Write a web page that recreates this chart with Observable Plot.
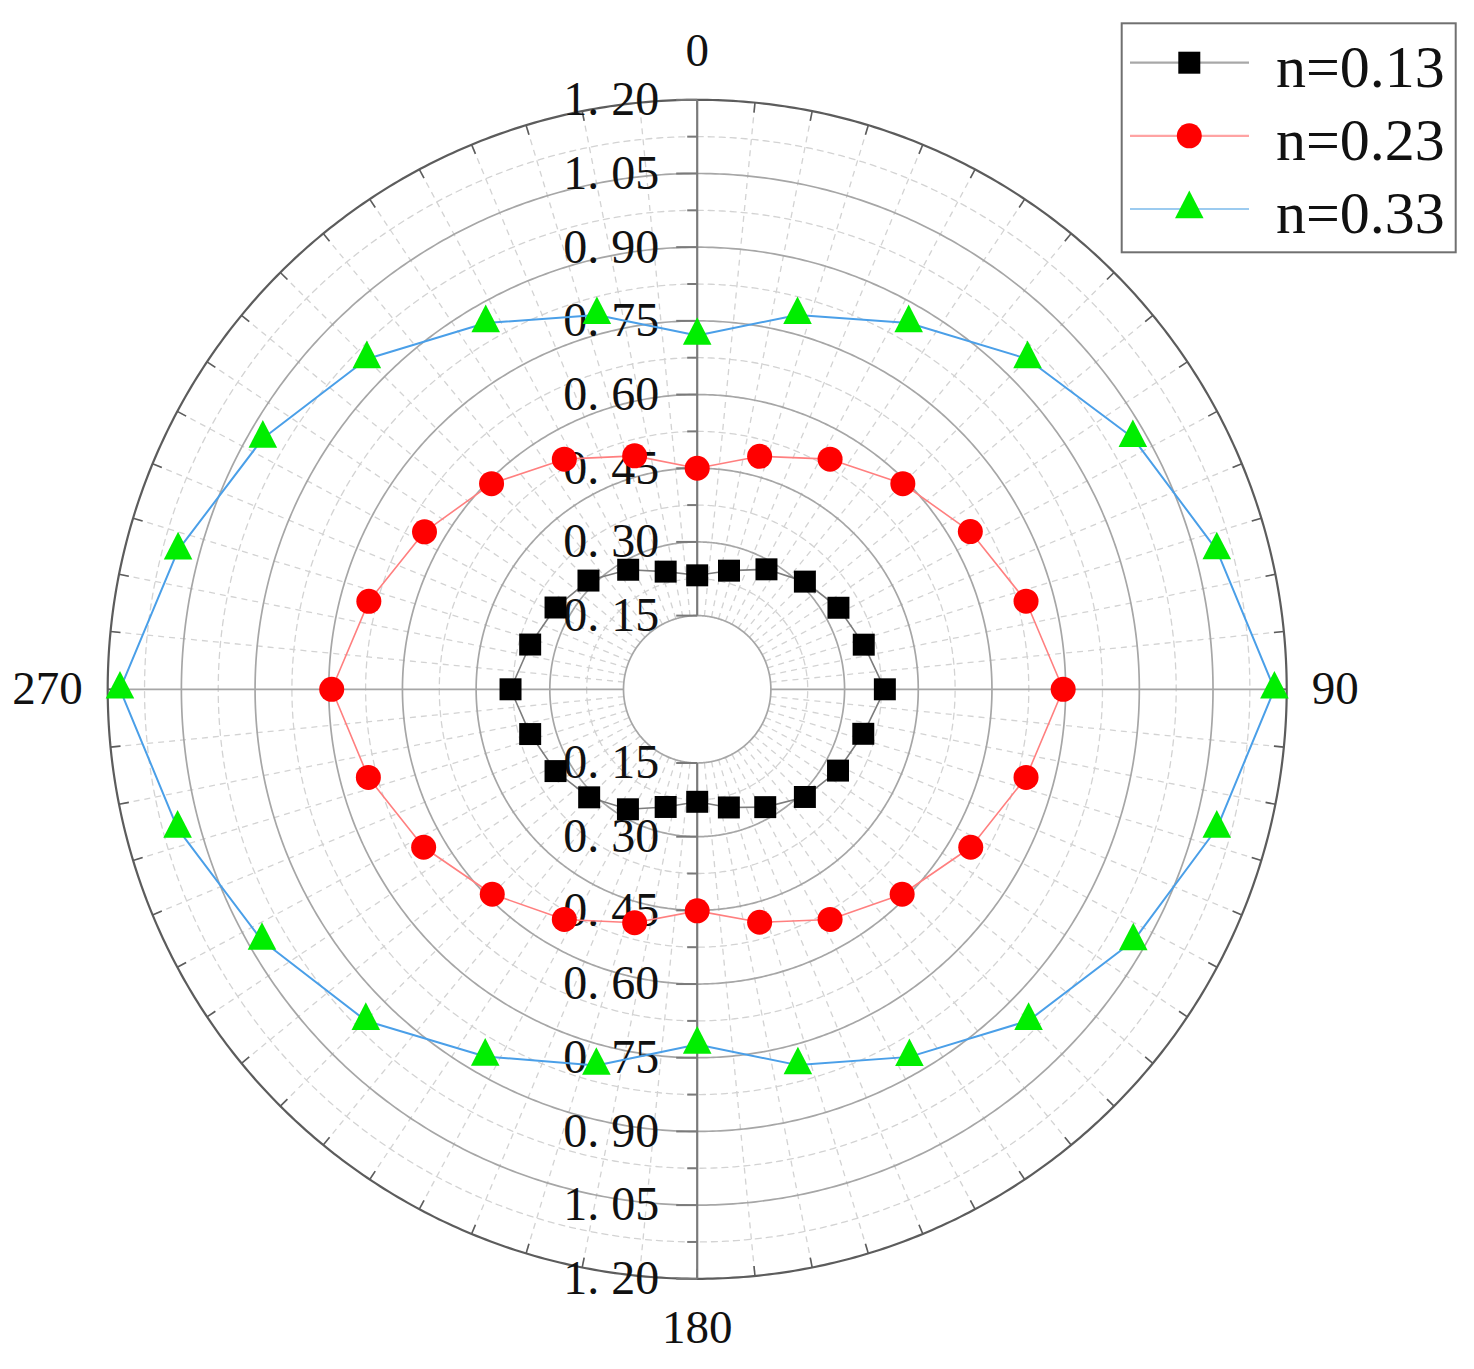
<!DOCTYPE html>
<html>
<head>
<meta charset="utf-8">
<script src="https://cdn.jsdelivr.net/npm/d3@7"></script>
<script src="https://cdn.jsdelivr.net/npm/@observablehq/plot@0.6"></script>
<style>
  body { margin: 0; background: #fff; }
  #wrap { position: relative; width: 1474px; height: 1369px; }
  #legend { position: absolute; left: 1119px; top: 22px; }
</style>
</head>
<body>
<div id="wrap"></div>
<script>
// ---------- data ----------
const angles = [0, 15, 30, 45, 60, 75, 90, 105, 120, 135, 150, 165, 180, 195, 210, 225, 240, 255, 270, 285, 300, 315, 330, 345];
const n013 = [0.232, 0.250, 0.282, 0.310, 0.332, 0.351, 0.382, 0.350, 0.331, 0.310, 0.277, 0.249, 0.229, 0.248, 0.282, 0.311, 0.333, 0.352, 0.380, 0.352, 0.333, 0.313, 0.281, 0.248];
const n023 = [0.450, 0.491, 0.541, 0.592, 0.642, 0.693, 0.745, 0.693, 0.643, 0.590, 0.541, 0.491, 0.451, 0.492, 0.541, 0.590, 0.643, 0.693, 0.744, 0.692, 0.641, 0.592, 0.541, 0.492];
const n033 = [0.720, 0.789, 0.861, 0.951, 1.024, 1.095, 1.175, 1.095, 1.025, 0.954, 0.864, 0.792, 0.723, 0.793, 0.863, 0.954, 1.023, 1.095, 1.175, 1.094, 1.021, 0.951, 0.861, 0.789];
const seriesNames = ["n=0.13", "n=0.23", "n=0.33"];
const radialTicks = [0.15, 0.30, 0.45, 0.60, 0.75, 0.90, 1.05, 1.20];
const radialTickLabels = ["0. 15", "0. 30", "0. 45", "0. 60", "0. 75", "0. 90", "1. 05", "1. 20"];
const angleTicks = [0, 90, 180, 270];
const angleTickLabels = ["0", "90", "180", "270"];
const angleMinorStep = 5.625;

// ---------- layout ----------
const W = 1474, H = 1369;
const CX = 696.7, CY = 688.8;
const rMax = radialTicks[radialTicks.length - 1];
const r0 = radialTicks[0];
const K = 589.5 / rMax; // px per unit
const rad = a => a * Math.PI / 180;
const px = (r, a) => r * Math.sin(rad(a));
const py = (r, a) => r * Math.cos(rad(a));
const ring = r => d3.range(0, 360.5, 0.5).map(a => ({r, x: px(r, a), y: py(r, a)}));

const majorRings = radialTicks.slice(0, -1);
const minorRings = d3.pairs(radialTicks).map(([a, b]) => (a + b) / 2);
const majorRingPts = majorRings.flatMap(ring);
const minorRingPts = minorRings.flatMap(ring);
const tickAngles = d3.range(0, 360, angleMinorStep);
const spokeAngles = tickAngles.filter(a => a % 90 !== 0);

const colors = {
  lines: ["#7c7c7c", "#ff7f7f", "#4a9fe8"],
  legendLines: ["#a8a8a8", "#ffa3a3", "#9ccbf0"],
  fills: ["#000000", "#ff0000", "#00ee00"]
};

const triSym = {
  draw(ctx, size) {
    const r = Math.sqrt(size / Math.PI);
    const h = 2 * r, w = 2.07 * r;
    ctx.moveTo(0, -2 * h / 3);
    ctx.lineTo(w / 2, h / 3);
    ctx.lineTo(-w / 2, h / 3);
    ctx.closePath();
  }
};

const series = [n013, n023, n033].map((vals, i) =>
  angles.map((a, j) => ({a, r: vals[j], x: px(vals[j], a), y: py(vals[j], a), s: seriesNames[i]})));
const closed = s => s.concat([s[0]]);

const serif = "'Liberation Serif', 'Times New Roman', serif";

const marks = [
  Plot.line(minorRingPts, {x: "x", y: "y", z: "r", stroke: "#d3d3d3", strokeWidth: 1.3, strokeDasharray: "6,5"}),
  Plot.link(spokeAngles, {
    x1: a => px(r0, a), y1: a => py(r0, a), x2: a => px(rMax, a), y2: a => py(rMax, a),
    stroke: "#d3d3d3", strokeWidth: 1.3, strokeDasharray: "6,5"
  }),
  Plot.line(majorRingPts, {x: "x", y: "y", z: "r", stroke: "#a6a6a6", strokeWidth: 1.7}),
  Plot.link([90, 270], {
    x1: a => px(r0, a), y1: a => py(r0, a), x2: a => px(rMax, a), y2: a => py(rMax, a),
    stroke: "#a6a6a6", strokeWidth: 1.7
  }),
  Plot.line(ring(rMax), {x: "x", y: "y", stroke: "#5c5c5c", strokeWidth: 2.2}),
  Plot.link(tickAngles, {
    x1: a => px(rMax, a), y1: a => py(rMax, a),
    x2: a => px(rMax - 10 / K, a), y2: a => py(rMax - 10 / K, a),
    stroke: "#5c5c5c", strokeWidth: 1.6
  }),
  Plot.link([0, 180], {
    x1: a => px(r0, a), y1: a => py(r0, a), x2: a => px(rMax, a), y2: a => py(rMax, a),
    stroke: "#7a7a7a", strokeWidth: 2.2
  }),
  Plot.link(radialTicks.flatMap(v => [v, -v]), {
    x1: 0, x2: -21 / K, y1: d => d, y2: d => d, stroke: "#7a7a7a", strokeWidth: 2
  }),
  Plot.link(minorRings.flatMap(v => [v, -v]), {
    x1: 0, x2: -10 / K, y1: d => d, y2: d => d, stroke: "#7a7a7a", strokeWidth: 2
  }),
  Plot.text(radialTicks, {
    x: 0, y: d => d, text: (d, i) => radialTickLabels[i], textAnchor: "end", lineAnchor: "middle",
    dx: -38, fontSize: 48, fontFamily: serif, fill: "#111"
  }),
  Plot.text(radialTicks, {
    x: 0, y: d => -d, text: (d, i) => radialTickLabels[i], textAnchor: "end", lineAnchor: "middle",
    dx: -38, fontSize: 48, fontFamily: serif, fill: "#111"
  }),
  Plot.text(angleTicks, {
    filter: a => a % 180 === 0,
    x: a => px(rMax + 49 / K, a), y: a => py(rMax + 49 / K, a),
    text: (a) => angleTickLabels[angleTicks.indexOf(a)], textAnchor: "middle", lineAnchor: "middle",
    fontSize: 47, fontFamily: serif, fill: "#111"
  }),
  Plot.text(angleTicks, {
    filter: a => a === 90,
    x: a => px(rMax + 25 / K, a), y: a => py(rMax + 25 / K, a),
    text: (a) => angleTickLabels[angleTicks.indexOf(a)], textAnchor: "start", lineAnchor: "middle",
    fontSize: 47, fontFamily: serif, fill: "#111"
  }),
  Plot.text(angleTicks, {
    filter: a => a === 270,
    x: a => px(rMax + 25 / K, a), y: a => py(rMax + 25 / K, a),
    text: (a) => angleTickLabels[angleTicks.indexOf(a)], textAnchor: "end", lineAnchor: "middle",
    fontSize: 47, fontFamily: serif, fill: "#111"
  }),
  ...series.map((s, i) => Plot.line(closed(s), {x: "x", y: "y", stroke: colors.lines[i], strokeWidth: i === 2 ? 2 : 1.6})),
  Plot.dot(series[0], {x: "x", y: "y", symbol: "square", r: 12.4, fill: colors.fills[0]}),
  Plot.dot(series[1], {x: "x", y: "y", symbol: "circle", r: 12.5, fill: colors.fills[1]}),
  Plot.dot(series[2], {x: "x", y: "y", symbol: triSym, r: 13.8, fill: colors.fills[2]})
];

const chart = Plot.plot({
  width: W, height: H, margin: 0,
  x: {domain: [-CX / K, (W - CX) / K], axis: null},
  y: {domain: [-(H - CY) / K, CY / K], axis: null},
  style: {background: "white", overflow: "visible"},
  marks
});
document.getElementById("wrap").appendChild(chart);

// ---------- legend ----------
const lg = d3.select("#wrap").append("svg").attr("id", "legend").attr("width", 342).attr("height", 236);
lg.append("rect").attr("x", 2.7).attr("y", 1.3).attr("width", 334).attr("height", 229)
  .attr("fill", "#fff").attr("stroke", "#707070").attr("stroke-width", 2);
const legendSymbols = [d3.symbolSquare, d3.symbolCircle, triSym];
const legendSizes = [22 * 22, Math.PI * 12.5 * 12.5, Math.PI * 13.8 * 13.8];
seriesNames.forEach((name, i) => {
  const cy = 40.7 + 73.15 * i;
  lg.append("line").attr("x1", 11).attr("x2", 130).attr("y1", cy).attr("y2", cy)
    .attr("stroke", colors.legendLines[i]).attr("stroke-width", 2.2);
  lg.append("path").attr("transform", `translate(70.3,${cy})`)
    .attr("d", d3.symbol(legendSymbols[i], legendSizes[i])()).attr("fill", colors.fills[i]);
  lg.append("text").attr("x", 157).attr("y", 65 + 73.15 * i)
    .attr("font-family", serif).attr("font-size", 60).attr("fill", "#111").text(name);
});
</script>
</body>
</html>
